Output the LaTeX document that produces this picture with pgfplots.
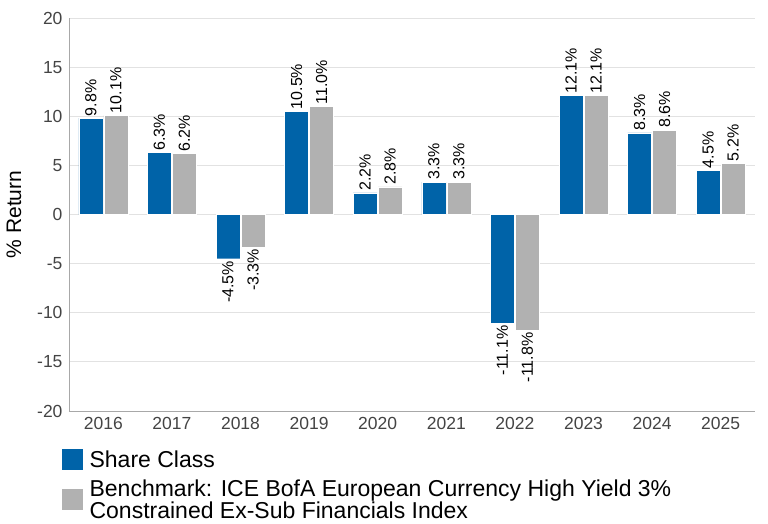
\documentclass[border=0pt]{standalone}
\usepackage{fontspec}
\setmainfont{Liberation Sans}
\usepackage{pgfplots}
\pgfplotsset{compat=1.18}

\definecolor{shareblue}{HTML}{0063A8}
\definecolor{benchgray}{HTML}{B1B1B1}
\definecolor{tickgray}{HTML}{444444}
\definecolor{gridgray}{HTML}{E2E2E2}
\definecolor{axisgray}{HTML}{A8A8A8}

\begin{document}
\begin{tikzpicture}
\useasboundingbox (-69pt,-112pt) rectangle (699pt,411pt);
\begin{axis}[
    scale only axis,
    width=686pt, height=393pt,
    xmin=-0.5, xmax=9.5,
    ymin=-20, ymax=20,
    ytick={-20,-15,...,20},
    xtick={0,...,9},
    xticklabels={2016,2017,2018,2019,2020,2021,2022,2023,2024,2025},
    ybar=1pt, bar width=24pt,
    axis x line*=bottom, axis y line*=left,
    axis line style={axisgray, line width=0.8pt, -},
    major tick length=0pt,
    ymajorgrids, grid style={gridgray, line width=0.8pt},
    /pgf/number format/assume math mode=true,
    tick label style={font=\fontsize{17.5}{20}\selectfont, text=tickgray},
    yticklabel style={xshift=-3pt},
    xticklabel style={yshift=-3pt},
    ylabel={\% Return},
    ylabel style={font=\fontsize{21}{24}\selectfont, yshift=9pt},
    nodes near coords={\pgfmathprintnumber[fixed,fixed zerofill,precision=1]{\pgfplotspointmeta}\%},
    visualization depends on={rawy \as \myrawy},
    every node near coord/.append style={font=\fontsize{16}{18}\selectfont, text=black, rotate=90,
        inner sep=2pt,
        /utils/exec={\ifdim\myrawy pt<0pt \gdef\nnanchor{east}\else\gdef\nnanchor{west}\fi},
        anchor=\nnanchor},
    legend style={at={(0,0)}, anchor=north west, xshift=-8pt, yshift=-37pt,
        draw=none, fill=none, inner sep=0pt,
        font=\fontsize{23}{22.5}\selectfont, row sep=6pt, column sep=4pt},
    legend cell align=left,
    legend style={nodes={align=left}},
    legend image code/.code={\fill[#1] (0pt,-10pt) rectangle (22pt,12pt);},
]

% Share Class
\addplot[fill=shareblue, draw=white, line width=0.4pt] coordinates {
    (0, 9.8) (1, 6.3) (2, -4.5) (3, 10.5) (4, 2.2)
    (5, 3.3) (6, -11.1) (7, 12.1) (8, 8.3) (9, 4.5)
};
\addlegendentry{Share Class}

% Benchmark
\addplot[fill=benchgray, draw=white, line width=0.4pt] coordinates {
    (0, 10.1) (1, 6.2) (2, -3.3) (3, 11.0) (4, 2.8)
    (5, 3.3) (6, -11.8) (7, 12.1) (8, 8.6) (9, 5.2)
};
\addlegendentry{Benchmark: ICE BofA European Currency High Yield 3\%\\Constrained Ex-Sub Financials Index}

\end{axis}
\end{tikzpicture}
\end{document}
